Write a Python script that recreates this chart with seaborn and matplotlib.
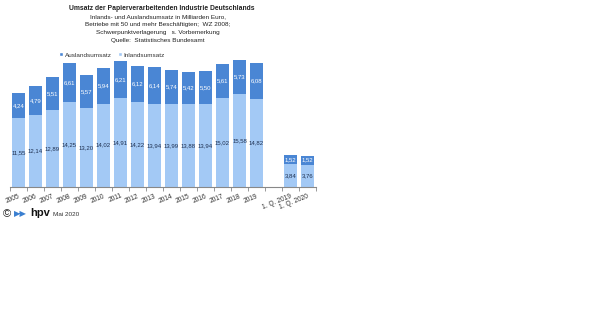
import numpy as np
import pandas as pd
import matplotlib
matplotlib.use("Agg")
import matplotlib.pyplot as plt
import seaborn as sns
from matplotlib.patches import Patch

categories = ["2005", "2006", "2007", "2008", "2009", "2010", "2011", "2012", "2013",
              "2014", "2015", "2016", "2017", "2018", "2019", " ", "1. Q. 2019", "1. Q. 2020"]
inland = [11.55, 12.14, 12.89, 14.25, 13.20, 14.02, 14.91, 14.22, 13.94,
          13.99, 13.88, 13.94, 15.02, 15.58, 14.82, np.nan, 3.84, 3.76]
ausland = [4.24, 4.79, 5.51, 6.61, 5.57, 5.94, 6.21, 6.12, 6.14,
           5.74, 5.42, 5.50, 5.61, 5.73, 6.08, np.nan, 1.52, 1.52]

title_lines = ["Inlands- und Auslandsumsatz in Milliarden Euro,",
               "Betriebe mit 50 und mehr Beschäftigten;  WZ 2008;",
               "Schwerpunktverlagerung   s. Vorbemerkung",
               "Quelle:  Statistisches Bundesamt"]

sns.set_theme(style="white")
plt.rcParams["font.family"] = ["Liberation Sans", "DejaVu Sans"]

dark = "#4a86d4"
light = "#a3c9f5"

df = pd.DataFrame({"cat": categories, "inland": inland, "ausland": ausland})
df["total"] = df["inland"] + df["ausland"]

W, H = 591, 332
fig = plt.figure(figsize=(W / 100, H / 100), dpi=100)
ax = fig.add_axes([10 / W, 1 - 187 / H, 306 / W, 131 / H])

sns.barplot(data=df, x="cat", y="total", order=categories, color=dark,
            saturation=1, width=0.82, ax=ax, edgecolor="none")
sns.barplot(data=df, x="cat", y="inland", order=categories, color=light,
            saturation=1, width=0.82, ax=ax, edgecolor="none")

ax.set_ylim(0, 22)
ax.set_xlim(-0.5, len(categories) - 0.5)
ax.set_xlabel("")
ax.set_ylabel("")
ax.set_yticks([])
for s in ["top", "right", "left"]:
    ax.spines[s].set_visible(False)
ax.spines["bottom"].set_color("#888888")
ax.spines["bottom"].set_linewidth(0.8)

ax.set_xticks(range(len(categories)))
ax.set_xticklabels(categories, rotation=22, ha="right", rotation_mode="anchor",
                   fontsize=4.8, color="#333333")
ax.tick_params(axis="x", which="major", length=0, pad=4)
ax.set_xticks(np.arange(-0.5, len(categories), 1.0), minor=True)
ax.tick_params(axis="x", which="minor", length=3, width=0.6, color="#888888", bottom=True)

def fmt(v):
    return f"{v:.2f}".replace(".", ",")

for i, (a, b) in enumerate(zip(inland, ausland)):
    if np.isnan(a):
        continue
    ax.text(i, a / 2, fmt(a), ha="center", va="center", fontsize=4.3, color="#1f3050")
    ax.text(i, a + b / 2, fmt(b), ha="center", va="center", fontsize=4.3, color="white")

fig.text(162 / W, 1 - 9 / H, "Umsatz der Papierverarbeitenden Industrie Deutschlands",
         ha="center", va="center", fontsize=4.9, fontweight="bold", color="#222222")
for k, line in enumerate(title_lines):
    fig.text(158 / W, 1 - (16.5 + 8 * k) / H, line, ha="center", va="center",
             fontsize=4.6, color="#222222")

handles = [Patch(facecolor=dark, label="Auslandsumsatz"),
           Patch(facecolor=light, label="Inlandsumsatz")]
fig.legend(handles=handles, loc="center left", bbox_to_anchor=(53 / W, 1 - 55 / H),
           ncol=2, frameon=False, fontsize=4.6, handlelength=0.6, handleheight=0.6,
           handletextpad=0.3, columnspacing=1.0, labelcolor="#333333")

fig.text(3 / W, 1 - 214 / H, "©", ha="left", va="center", fontsize=8, color="#222222")
fig.text(14 / W, 1 - 214 / H, "▶▶", ha="left", va="center", fontsize=6, color="#3a7fd0",
         family=["DejaVu Sans"])
fig.text(30 / W, 1 - 213 / H, "hpv", ha="left", va="center", fontsize=8,
         fontweight="bold", color="#111111")
fig.text(53 / W, 1 - 215 / H, "Mai 2020", ha="left", va="center", fontsize=4.6, color="#333333")

fig.savefig("out.png", dpi=100, facecolor="white")
